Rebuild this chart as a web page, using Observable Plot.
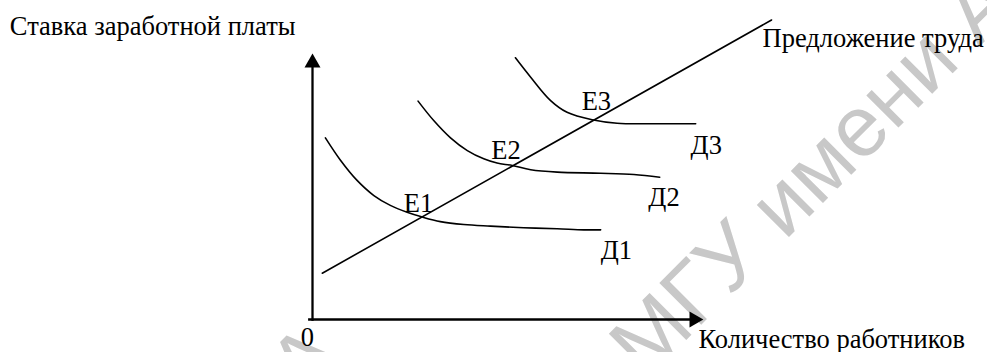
<!DOCTYPE html>
<html>
<head>
<meta charset="utf-8">
<script src="https://cdn.jsdelivr.net/npm/d3@7"></script>
<script src="https://cdn.jsdelivr.net/npm/@observablehq/plot@0.6"></script>
<style>
  html, body { margin: 0; padding: 0; background: #fff; }
  #chart svg { display: block; }
</style>
</head>
<body>
<div id="chart"></div>
<script>
// Quantity of workers (q) and wage rate (w) in arbitrary units
const supplyQ = [2.5, 117.4];
const supplyW = [17.4, 112.6];

const d1Q = [3.3, 7.2, 11.4, 15.7, 19.9, 24.2, 28.1, 32.7, 38.7, 45.5, 54.0, 62.6, 69.4, 73.7];
const d1W = [68.3, 59.8, 52.3, 46.6, 42.9, 40.3, 38.5, 36.8, 35.7, 35.1, 34.5, 34.1, 33.7, 33.7];

const d2Q = [27.0, 31.0, 35.3, 39.6, 43.8, 47.2, 51.1, 55.8, 62.6, 73.7, 82.2, 88.8];
const d2W = [82.1, 74.8, 68.3, 63.5, 60.4, 58.8, 57.9, 56.3, 55.4, 55.0, 54.5, 53.5];

const d3Q = [51.9, 55.8, 60.9, 65.1, 71.5, 77.9, 86.4, 98.0];
const d3W = [98.4, 91.1, 82.3, 77.9, 75.1, 73.8, 73.6, 73.6];

// Equilibrium labels
const eqLabels = ["E1", "E2", "E3"];
const eqQ = [27.1, 49.5, 72.6];
const eqW = [40.6, 60.5, 78.9];

// Demand labels
const dLabels = ["Д1", "Д2", "Д3"];
const dLabQ = [73.7, 85.9, 96.7];
const dLabW = [22.9, 42.5, 62.4];

// Axis titles and texts
const yTitle = "Ставка заработной платы";
const xTitle = "Количество работников";
const supplyTitle = "Предложение труда";
const originLabel = "0";
const watermarkMain = "МГУ имени А.А. Кулешова";
const watermarkTail = "МГУ имени А";

const toPts = (qs, ws) => qs.map((q, i) => ({q, w: ws[i]}));
const supply = toPts(supplyQ, supplyW);
const d1 = toPts(d1Q, d1W);
const d2 = toPts(d2Q, d2W);
const d3 = toPts(d3Q, d3W);
const eq = eqLabels.map((t, i) => ({t, q: eqQ[i], w: eqW[i]}));
const dl = dLabels.map((t, i) => ({t, q: dLabQ[i], w: dLabW[i]}));

const serif = "'Liberation Serif', 'Times New Roman', serif";
const sans = "'Liberation Sans', Arial, sans-serif";
const fs = 26.5;

const chart = Plot.plot({
  width: 987,
  height: 352,
  margin: 0,
  style: {background: "#fff"},
  x: {domain: [0, 100], range: [312, 703], axis: null},
  y: {domain: [0, 100], range: [319, 53], axis: null},
  marks: [
    // watermark
    Plot.text([watermarkMain], {x: () => 85.2, y: () => -22.9, text: d => d, textAnchor: "start",
      rotate: -45, fill: "#c8c8c8", fontSize: 86, fontFamily: sans, lineAnchor: "bottom"}),
    Plot.text([watermarkTail], {x: () => 8.4, y: () => -15.4, text: d => d, textAnchor: "end",
      rotate: -45, fill: "#c8c8c8", fontSize: 86, fontFamily: sans, lineAnchor: "bottom"}),
    // axes
    Plot.ruleX([0], {x: d => d, y1: -0.7, y2: 95, stroke: "#000", strokeWidth: 2.3}),
    Plot.ruleY([0], {y: d => d, x1: -1, x2: 97, stroke: "#000", strokeWidth: 2.3}),
    Plot.dot([0], {x: () => 0, y: () => 96.5, symbol: "triangle", r: 5.94, fill: "#000", stroke: null}),
    Plot.dot([0], {x: () => 97.6, y: () => 0, symbol: "triangle", r: 5.94, rotate: 90, fill: "#000", stroke: null}),
    // curves
    Plot.line(supply, {x: "q", y: "w", stroke: "#000", strokeWidth: 1.6}),
    Plot.line(d1, {x: "q", y: "w", stroke: "#000", strokeWidth: 1.6, curve: "catmull-rom"}),
    Plot.line(d2, {x: "q", y: "w", stroke: "#000", strokeWidth: 1.6, curve: "catmull-rom"}),
    Plot.line(d3, {x: "q", y: "w", stroke: "#000", strokeWidth: 1.6, curve: "catmull-rom"}),
    // labels
    Plot.text(eq, {x: "q", y: "w", text: "t", textAnchor: "middle", lineAnchor: "bottom", fontSize: fs, fontFamily: serif, fill: "#000"}),
    Plot.text(dl, {x: "q", y: "w", text: "t", textAnchor: "start", lineAnchor: "bottom", fontSize: fs, fontFamily: serif, fill: "#000"}),
    Plot.text([originLabel], {x: () => -1.3, y: () => -9.8, text: d => d, textAnchor: "middle", lineAnchor: "bottom", fontSize: fs, fontFamily: serif, fill: "#000"}),
    Plot.text([yTitle], {x: () => -77.4, y: () => 106.8, text: d => d, textAnchor: "start", lineAnchor: "bottom", fontSize: fs, fontFamily: serif, fill: "#000"}),
    Plot.text([supplyTitle], {x: () => 115.1, y: () => 102.3, text: d => d, textAnchor: "start", lineAnchor: "bottom", fontSize: fs, fontFamily: serif, fill: "#000"}),
    Plot.text([xTitle], {x: () => 98.7, y: () => -10.9, text: d => d, textAnchor: "start", lineAnchor: "bottom", fontSize: fs, fontFamily: serif, fill: "#000"})
  ]
});
document.getElementById("chart").appendChild(chart);
</script>
</body>
</html>
